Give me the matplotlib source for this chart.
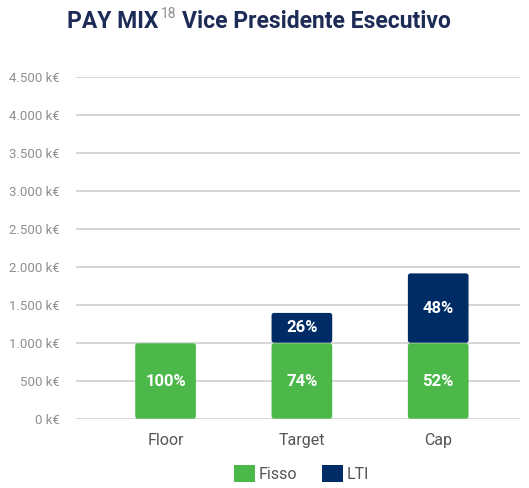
import matplotlib
matplotlib.use("Agg")
import matplotlib.pyplot as plt
from matplotlib.patches import FancyBboxPatch, Patch
from matplotlib.text import Annotation

categories = ["Floor", "Target", "Cap"]
fisso = [1000, 1000, 1000]
lti = [0, 400, 920]
fisso_pct = ["100%", "74%", "52%"]
lti_pct = ["", "26%", "48%"]
yticks = [0, 500, 1000, 1500, 2000, 2500, 3000, 3500, 4000, 4500]
ytick_labels = ["0 k€", "500 k€", "1.000 k€", "1.500 k€", "2.000 k€", "2.500 k€",
                "3.000 k€", "3.500 k€", "4.000 k€", "4.500 k€"]

plt.rcParams["font.family"] = ["Roboto", "DejaVu Sans"]

GREEN = "#4db84a"
NAVY = "#002c66"
GREY = "#8f8f8f"

fig = plt.figure(figsize=(5.29, 4.88), dpi=100)
ax = fig.add_axes([76/529, 1-419/488, (520-76)/529, (419-77)/488])
x = list(range(len(categories)))
w = 0.445
b1 = ax.bar(x, fisso, width=w, color=GREEN)
b2 = ax.bar(x, lti, width=w, bottom=fisso, color=NAVY)

ax.set_xlim(-0.657, 2.60)
ax.set_ylim(0, 4500)

# replace with rounded rectangles
rx = 2.5 / 136.3
ry = 2.5 / 0.076
for bars in (b1, b2):
    for p in bars:
        bx, by = p.get_x(), p.get_y()
        bw, bh = p.get_width(), p.get_height()
        p.set_visible(False)
        if bh <= 0:
            continue
        gap = 8
        fb = FancyBboxPatch((bx + rx, by + ry + gap/2), bw - 2*rx, bh - 2*ry - gap,
                            boxstyle=f"round,pad={rx},rounding_size={rx}",
                            mutation_aspect=ry/rx, facecolor=p.get_facecolor(),
                            edgecolor="none", zorder=3)
        ax.add_patch(fb)

for i in x:
    ax.text(i, fisso[i]/2, fisso_pct[i], ha="center", va="center", color="white",
            fontsize=12, fontweight="bold", zorder=4)
    if lti[i] > 0:
        ax.text(i, fisso[i] + lti[i]/2, lti_pct[i], ha="center", va="center",
                color="white", fontsize=12, fontweight="bold", zorder=4)

ax.set_yticks(yticks)
ax.set_yticklabels(ytick_labels, color=GREY, fontsize=9.5)
ax.set_xticks(x)
ax.set_xticklabels(categories, color="#555555", fontsize=11.5)
ax.tick_params(axis="both", length=0)
ax.tick_params(axis="y", pad=12)
ax.tick_params(axis="x", pad=10)
ax.grid(axis="y", color="#cccccc", linewidth=1.1, zorder=0)
ax.set_axisbelow(True)
for s in ax.spines.values():
    s.set_visible(False)

handles = [Patch(facecolor=GREEN, label="Fisso"), Patch(facecolor=NAVY, label="LTI")]
leg = fig.legend(handles=handles, loc="lower center", bbox_to_anchor=(0.57, -0.018),
                 ncol=2, frameon=False, fontsize=11.5, handlelength=1.3,
                 handleheight=1.3, handletextpad=0.2, columnspacing=1.6)
for t in leg.get_texts():
    t.set_color("#555555")

TITLE = "#1d2b57"
t1 = fig.text(67/529, 1-22/488, "PAY MIX", ha="left", va="center", fontsize=16.5,
              fontweight="bold", color=TITLE)
fig.add_artist(Annotation("18", xy=(1, 0.55), xycoords=t1,
               xytext=(2, 0), textcoords="offset points", fontsize=10,
               color=GREY, va="bottom", ha="left"))
fig.add_artist(Annotation("Vice Presidente Esecutivo", xy=(1, 0.5),
               xycoords=t1, xytext=(17, 0), textcoords="offset points",
               fontsize=16.5, fontweight="bold", color=TITLE, va="center", ha="left"))

fig.savefig("out.png", dpi=100)
